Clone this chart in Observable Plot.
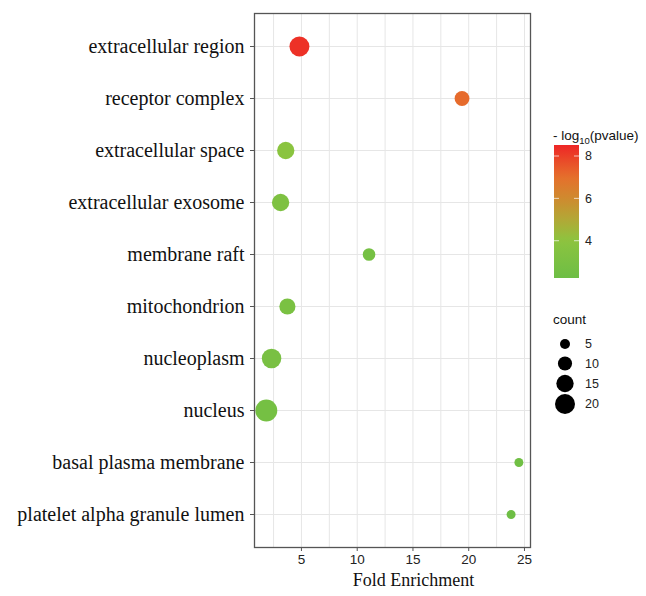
<!DOCTYPE html>
<html>
<head>
<meta charset="utf-8">
<script src="https://cdn.jsdelivr.net/npm/d3@7"></script>
<script src="https://cdn.jsdelivr.net/npm/@observablehq/plot@0.6"></script>
<style>
  body { margin: 0; background: #ffffff; }
  #chart { width: 646px; height: 596px; }
</style>
</head>
<body>
<div id="chart"></div>
<script>
const terms = [
  "extracellular region",
  "receptor complex",
  "extracellular space",
  "extracellular exosome",
  "membrane raft",
  "mitochondrion",
  "nucleoplasm",
  "nucleus",
  "basal plasma membrane",
  "platelet alpha granule lumen"
];
const foldEnrichment = [4.82, 19.4, 3.59, 3.13, 11.06, 3.74, 2.32, 1.85, 24.5, 23.8];
const counts = [20, 11, 15, 15, 8, 13, 19, 24, 4, 4];
const negLogP = [8.3, 7.1, 3.9, 3.2, 2.7, 3.0, 2.9, 2.7, 2.4, 2.3];
const xTicks = [5, 10, 15, 20, 25];
const xGrid = [2.5, 5, 7.5, 10, 12.5, 15, 17.5, 20, 22.5, 25];
const colorTicks = [4, 6, 8];
const sizeTicks = [5, 10, 15, 20];
const colorStops = [2.24, 4, 5, 6, 7, 8.52];
const colorStopValues = ["#6dbe45", "#8cc43f", "#b2a836", "#cf8a2f", "#e5702c", "#ee2626"];

const data = terms.map((t, i) => ({term: t, fe: foldEnrichment[i], count: counts[i], p: negLogP[i]}));

const W = 646, H = 596;
const mL = 254, mT = 13, mR = 116, mB = 49;
const colorDomain = [colorStops[0], colorStops[colorStops.length - 1]];

const chart = Plot.plot({
  width: W,
  height: H,
  marginLeft: mL,
  marginTop: mT,
  marginRight: mR,
  marginBottom: mB,
  style: {background: "transparent", overflow: "visible"},
  x: {domain: [0.79, 25.54]},
  y: {type: "point", domain: terms, padding: 0.6},
  r: {type: "sqrt", domain: [0, 20], range: [0, 10]},
  color: {type: "linear", domain: colorStops, range: colorStopValues, interpolate: "rgb"},
  marks: [
    Plot.frame({fill: "#ffffff"}),
    Plot.gridX(xGrid, {stroke: "#e6e6e6", strokeOpacity: 1, strokeWidth: 1}),
    Plot.gridY({stroke: "#e6e6e6", strokeOpacity: 1, strokeWidth: 1}),
    Plot.dot(data, {x: "fe", y: "term", r: "count", fill: "p", stroke: null}),
    Plot.frame({stroke: "#555555", strokeWidth: 1.3}),
    Plot.axisY({
      tickSize: 4, tickPadding: 6, stroke: "#555",
      fontSize: 20, fontFamily: "Liberation Serif, serif", fill: "#111", label: null
    }),
    Plot.axisX(xTicks, {
      tickSize: 4, tickPadding: 3, stroke: "#555",
      fontSize: 13.5, fontFamily: "Liberation Sans, Arial, sans-serif", fill: "#222", label: null
    }),
    Plot.text(["Fold Enrichment"], {
      frameAnchor: "bottom", dy: 38, dx: 21, fontSize: 18,
      fontFamily: "Liberation Serif, serif", fill: "#111"
    })
  ]
});

document.getElementById("chart").appendChild(chart);

// Legends built from the chart's own scales
const cFn = Plot.scale({color: chart.scale("color")});
const rFn = Plot.scale({r: chart.scale("r")});

const svg = d3.select(chart);
const sans = "Liberation Sans, Arial, sans-serif";

// Color legend
const bx = 554, bw = 25, by0 = 145, by1 = 278;
const barY = d3.scaleLinear().domain(colorDomain).range([by1, by0]);
const defs = svg.append("defs");
const grad = defs.append("linearGradient").attr("id", "cbar").attr("x1", 0).attr("y1", 1).attr("x2", 0).attr("y2", 0);
d3.range(0, 1.0001, 0.05).forEach(t => {
  const v = colorDomain[0] + t * (colorDomain[1] - colorDomain[0]);
  grad.append("stop").attr("offset", t).attr("stop-color", cFn.apply(v));
});
const lg = svg.append("g").attr("text-anchor", "start");
const title = lg.append("text").attr("x", 553).attr("y", 140).attr("font-family", sans).attr("font-size", 13.5).attr("fill", "#111");
title.append("tspan").text("- log");
title.append("tspan").text("10").attr("font-size", 9.5).attr("dy", 4);
title.append("tspan").text("(pvalue)").attr("dy", -4);
lg.append("rect").attr("x", bx).attr("y", by0).attr("width", bw).attr("height", by1 - by0).attr("fill", "url(#cbar)");
colorTicks.forEach(v => {
  const y = barY(v);
  lg.append("line").attr("x1", bx).attr("x2", bx + 5).attr("y1", y).attr("y2", y).attr("stroke", "#fff").attr("stroke-opacity", 0.7);
  lg.append("line").attr("x1", bx + bw - 5).attr("x2", bx + bw).attr("y1", y).attr("y2", y).attr("stroke", "#fff").attr("stroke-opacity", 0.7);
  lg.append("text").attr("x", 585).attr("y", y).attr("dy", "0.35em").attr("font-family", sans).attr("font-size", 12.5).attr("fill", "#222").text(v);
});

// Size legend
lg.append("text").attr("x", 553).attr("y", 324).attr("font-family", sans).attr("font-size", 13.5).attr("fill", "#111").text("count");
const rowY = [344, 363.5, 383.5, 404];
sizeTicks.forEach((v, i) => {
  lg.append("circle").attr("cx", 565).attr("cy", rowY[i]).attr("r", rFn.apply(v)).attr("fill", "#000");
  lg.append("text").attr("x", 585).attr("y", rowY[i]).attr("dy", "0.35em").attr("font-family", sans).attr("font-size", 12.5).attr("fill", "#222").text(v);
});
</script>
</body>
</html>
